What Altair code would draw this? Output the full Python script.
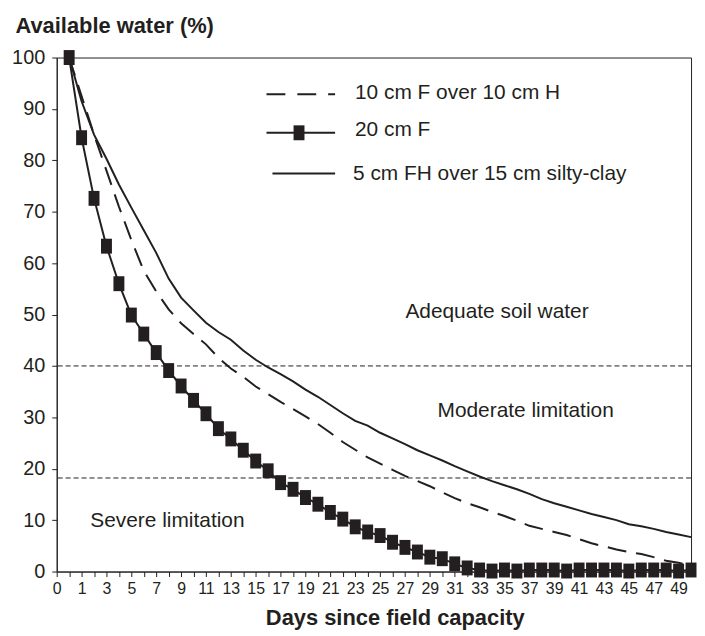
import altair as alt
import pandas as pd

# ---- data ----
days = list(range(0, 51))

series_names = ["10 cm F over 10 cm H", "20 cm F", "5 cm FH over 15 cm silty-clay"]

f10_over_h10 = [100, 92.5, 85.0, 78.0, 71.0, 64.5, 58.5, 54.5, 51.0, 48.3,
                46.2, 44.2, 41.6, 39.5, 37.9, 36.0, 34.5, 33.0, 31.6, 30.2,
                28.7, 27.0, 25.2, 23.7, 22.2, 21.0, 19.8, 18.6, 17.6, 16.6,
                15.4, 14.3, 13.3, 12.5, 11.6, 10.8, 9.9, 8.9, 8.3, 7.7,
                7.1, 6.3, 5.5, 4.9, 4.3, 3.8, 3.4, 2.8, 2.1, 1.7, 1.2]

f20 = [100, 84.4, 72.6, 63.3, 56.0, 49.9, 46.2, 42.6, 39.1, 36.1,
       33.3, 30.7, 27.8, 25.8, 23.6, 21.5, 19.6, 17.3, 16.0, 14.4,
       13.1, 11.5, 10.2, 8.7, 7.7, 7.0, 5.7, 4.7, 3.8, 2.8,
       2.5, 1.5, 0.7, 0.3, 0.1, 0.3, 0.1, 0.3, 0.3, 0.3,
       0.1, 0.3, 0.3, 0.3, 0.3, 0.1, 0.3, 0.3, 0.3, 0.1, 0.3]

fh5_over_clay15 = [100, 91.5, 85.0, 80.3, 75.3, 70.8, 66.4, 62.0, 57.0, 53.3,
                   50.8, 48.4, 46.6, 45.1, 43.0, 41.2, 39.7, 38.4, 37.0, 35.4,
                   34.0, 32.4, 30.8, 29.3, 28.4, 27.0, 25.9, 24.8, 23.6, 22.6,
                   21.6, 20.5, 19.5, 18.5, 17.6, 16.8, 16.0, 15.1, 14.1, 13.3,
                   12.6, 11.9, 11.2, 10.6, 10.0, 9.2, 8.8, 8.3, 7.7, 7.2, 6.7]

thresholds = [40, 18.2]

zone_labels = ["Adequate soil water", "Moderate limitation", "Severe limitation"]
zone_day = [34.4, 36.7, 7.9]
zone_value = [50.5, 31.2, 9.9]

x_ticks = list(range(-1, 51))
y_ticks = list(range(0, 101, 10))

# ---- tables ----
df_a = pd.DataFrame({"day": days, "water": f10_over_h10})
df_b = pd.DataFrame({"day": days, "water": f20})
df_c = pd.DataFrame({"day": days, "water": fh5_over_clay15})
df_thr = pd.DataFrame({"water": thresholds})
df_zone = pd.DataFrame({"label": zone_labels, "day": zone_day, "water": zone_value})

INK = "#231f20"
FONT = "Liberation Sans"
SQUARE = "M-0.733,-1L0.733,-1L0.733,1L-0.733,1Z"

x_enc = alt.X(
    "day:Q",
    scale=alt.Scale(domain=[-1, 50], nice=False, zero=False),
    axis=alt.Axis(
        values=x_ticks,
        labelExpr="datum.value == -1 ? '0' : (datum.value % 2 == 1 ? datum.value : '')",
        labelOverlap=False,
        labelFlush=False,
        labelFontSize=16,
        labelPadding=4,
        tickSize=5,
        grid=False,
        title="Days since field capacity",
        titleFontSize=22,
        titleFontWeight="bold",
        titleX=340,
        titleY=53,
        titleBaseline="alphabetic",
        titleAlign="center",
    ),
)
y_enc = alt.Y(
    "water:Q",
    scale=alt.Scale(domain=[0, 100], nice=False),
    axis=alt.Axis(
        values=y_ticks,
        labelFontSize=20,
        labelPadding=7,
        tickSize=5,
        grid=False,
        title="Available water (%)",
        titleAngle=0,
        titleAlign="left",
        titleBaseline="alphabetic",
        titleX=-42,
        titleY=-25,
        titleFontSize=22,
        titleFontWeight="bold",
    ),
)

line_a = alt.Chart(df_a).mark_line(color=INK, strokeWidth=2, strokeDash=[19, 10]).encode(x=x_enc, y=y_enc)
line_c = alt.Chart(df_c).mark_line(color=INK, strokeWidth=2).encode(x=x_enc, y=y_enc)
line_b = alt.Chart(df_b).mark_line(color=INK, strokeWidth=2).encode(x=x_enc, y=y_enc)
pts_b = alt.Chart(df_b).mark_point(shape=SQUARE, size=225, filled=True, color=INK, opacity=1).encode(x=x_enc, y=y_enc)

rules = alt.Chart(df_thr).mark_rule(color=INK, strokeWidth=1, strokeDash=[5, 3]).encode(y=y_enc)

zones = alt.Chart(df_zone).mark_text(font=FONT, fontSize=21, color=INK, align="center", baseline="middle").encode(
    x=x_enc, y=y_enc, text="label:N"
)

one = alt.Data(values=[{}])
leg_line1 = alt.Chart(one).mark_rule(color=INK, strokeWidth=2, strokeDash=[19, 12]).encode(
    x=alt.value(211), x2=alt.value(280), y=alt.value(37))
leg_line2 = alt.Chart(one).mark_rule(color=INK, strokeWidth=2).encode(
    x=alt.value(211), x2=alt.value(280), y=alt.value(75.7))
leg_sq = alt.Chart(one).mark_point(shape=SQUARE, size=225, filled=True, color=INK, opacity=1).encode(
    x=alt.value(243.7), y=alt.value(75.7))
leg_line3 = alt.Chart(one).mark_rule(color=INK, strokeWidth=2).encode(
    x=alt.value(217), x2=alt.value(280), y=alt.value(116.7))
leg_txt1 = alt.Chart(one).mark_text(font=FONT, fontSize=21, color=INK, align="left", baseline="middle").encode(
    x=alt.value(300), y=alt.value(36), text=alt.value(series_names[0]))
leg_txt2 = alt.Chart(one).mark_text(font=FONT, fontSize=21, color=INK, align="left", baseline="middle").encode(
    x=alt.value(300), y=alt.value(73), text=alt.value(series_names[1]))
leg_txt3 = alt.Chart(one).mark_text(font=FONT, fontSize=21, color=INK, align="left", baseline="middle").encode(
    x=alt.value(298), y=alt.value(117), text=alt.value(series_names[2]))

chart = alt.layer(
    rules, line_a, line_c, line_b, pts_b, zones,
    leg_line1, leg_line2, leg_sq, leg_line3, leg_txt1, leg_txt2, leg_txt3,
).properties(
    width=638,
    height=517,
    padding={"left": 49, "top": 48, "right": 6, "bottom": 62},
    autosize=alt.AutoSizeParams(type="none"),
    background="white",
).configure_view(
    stroke=INK, strokeWidth=1
).configure_axis(
    domainColor=INK, tickColor=INK, labelColor=INK, titleColor=INK,
    labelFont=FONT, titleFont=FONT, domainWidth=1, tickWidth=1,
).configure_axisX(
    labelOverlap=False
)

chart.save("out.html", embed_options={"renderer": "svg", "actions": False})
